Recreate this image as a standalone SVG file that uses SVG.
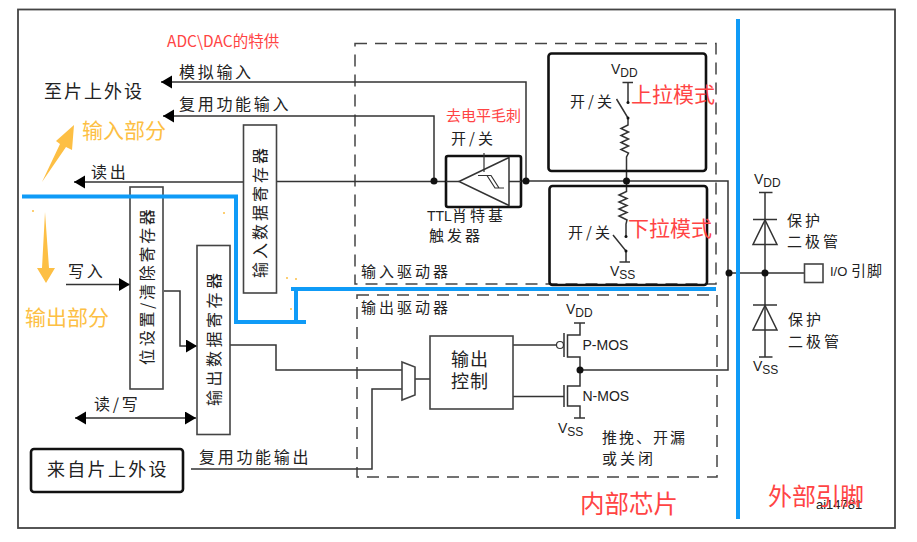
<svg xmlns="http://www.w3.org/2000/svg" width="917" height="542" viewBox="0 0 917 542">
<defs>
<marker id="a" markerUnits="userSpaceOnUse" markerWidth="12" markerHeight="14" refX="11" refY="6.500" orient="auto-start-reverse"><path d="M0 0L11 6.500L0 13z" fill="#000"/></marker>
</defs>
<style>
text{font-family:"Noto Sans CJK SC","Liberation Sans",sans-serif;fill:#222}
.t{font-size:16px;letter-spacing:2.700px}
.s{font-size:15px;letter-spacing:3px}
.l{font-family:"Liberation Sans",sans-serif;font-size:14px}
.sub{font-size:12px}
.r{fill:#f44}
.y{fill:#fdbf44}
.box{fill:#fff;stroke:#444;stroke-width:1.600}
.tb{fill:#fff;stroke:#111;stroke-width:2.600}
.w{fill:none;stroke:#333;stroke-width:1.500}
.dash{fill:none;stroke:#444;stroke-width:1.500;stroke-dasharray:12 8}
.blue{fill:none;stroke:#0f9bf7;stroke-width:4}
.dot{fill:#111}
</style>
<rect width="917" height="542" fill="#fff"/>
<rect id="frame" x="18" y="9.500" width="877" height="518.500" fill="none" stroke="#444" stroke-width="1.800"/>
<g id="input-driver"><rect class="dash" x="355" y="43.500" width="361" height="240.500"/></g>
<g id="output-driver"><rect class="dash" x="357" y="295" width="360" height="182"/></g>
<g id="connectors">
<path class="w" d="M172 82H526V181"/>
<path class="w" d="M172 116H434V181"/>
<path class="w" d="M80 182H243M276 181.500H446"/>
<path class="w" d="M521 181H728V370H580M728 273H804"/>
<path class="w" d="M80 182H74" marker-end="url(#a)"/>
<path class="w" d="M172 82H161" marker-end="url(#a)"/>
<path class="w" d="M172 116H163" marker-end="url(#a)"/>
<path class="w" d="M66 284.500H130" marker-end="url(#a)"/>
<path class="w" d="M164 291H180V346H197" marker-end="url(#a)"/>
<path class="w" d="M75 418H196" marker-start="url(#a)" marker-end="url(#a)"/>
<path class="w" d="M229 345H276V370H402"/>
<path class="w" d="M191 469H372V389H402"/>
<path class="w" d="M415 379H430"/>
<path class="w" d="M513 345H556M513 396.500H564"/>
<path class="w" d="M574 323H585M580 323V335H567.500V357H580V386H567.500V406H580V418M574 418H585"/>
<path class="w" d="M564 333V357M564 385V407"/>
<path class="w" d="M765 192.500V357M759 192.500H772.500M753 219.500H777M753 305H777M759 357H772.500"/>
<path class="w" d="M765 220L753 244.500H777ZM765 305.500L753 330H777Z"/>
<path class="w" d="M622.500 82.500H633M628 82.500V102.500M616.500 99L628 118V125L621 128.500L628.500 132L621 135.500L628.500 139L621 142.500L628.500 146L621 149.500L628.500 153L626.500 157V181"/>
<path class="w" d="M626.500 181V191.500L619 195L627 198.500L619 202L627 205.500L619 209L627 212.500L619 216L627 220L626 224V236.500M613 235L626 251V262M619.500 262H630"/>
</g>
<g id="pullup"><rect x="548.500" y="53.500" width="157.500" height="117.500" rx="3" fill="none" stroke="#111" stroke-width="2.600"/></g>
<g id="pulldown"><rect x="549.500" y="186" width="157.500" height="99" rx="3" fill="none" stroke="#111" stroke-width="2.600"/></g>
<g id="schmitt">
<rect class="tb" x="446" y="156" width="75" height="51" rx="2"/>
<path class="w" d="M446 181.500H459M509 181.500H521"/>
<path class="w" d="M459 181.500L509 157.500V205.500Z"/>
<path d="M484 153V172M478 175.500H487L495 188H504M487 175.500H491L499 188" fill="none" stroke="#333" stroke-width="1.200"/>
</g>
<g id="in-reg"><rect class="box" x="243.500" y="125" width="33" height="168"/><text class="t" transform="translate(266,278) rotate(-90)" style="letter-spacing:3px">输入数据寄存器</text></g>
<g id="bsrr"><rect class="box" x="130" y="187" width="33" height="202"/><text class="t" transform="translate(153,365) rotate(-90)">位设置/清除寄存器</text></g>
<g id="out-reg"><rect class="box" x="197" y="245.500" width="33" height="189"/><text class="t" transform="translate(220,406) rotate(-90)" style="letter-spacing:3.500px">输出数据寄存器</text></g>
<g id="peripheral"><rect class="tb" x="31" y="449" width="152" height="43" rx="3"/><text class="t" x="47" y="476" style="font-size:18px;letter-spacing:2.300px">来自片上外设</text></g>
<g id="ctrl"><rect class="box" x="430" y="336" width="83" height="73"/><text class="t" x="451" y="366" style="font-size:18px;letter-spacing:1px">输出</text><text class="t" x="451" y="388" style="font-size:18px;letter-spacing:1px">控制</text></g>
<g id="mux"><path class="box" d="M402 362L415 367V395L402 400Z"/></g>
<g id="pad"><rect class="box" x="804.500" y="264" width="18.500" height="18.500"/></g>
<g id="dots">
<circle class="dot" cx="434" cy="181" r="3.500"/><circle class="dot" cx="526" cy="181" r="3.500"/><circle class="dot" cx="626.500" cy="181" r="3.500"/><circle class="dot" cx="729" cy="273" r="3.500"/><circle class="dot" cx="765" cy="273" r="3.500"/><circle class="dot" cx="580" cy="370" r="3.500"/>
<circle class="dot" cx="628" cy="102.500" r="1.500"/><circle class="dot" cx="628" cy="118" r="1.500"/><circle class="dot" cx="626" cy="236.500" r="1.500"/><circle class="dot" cx="626" cy="251" r="1.500"/>
<circle cx="560" cy="345" r="3.500" fill="#fff" stroke="#333" stroke-width="1.200"/>
</g>
<g id="blue-lines">
<path class="blue" d="M22 196.500H236V322H306M296 289V322M291 289H716"/>
<path class="blue" d="M738 19V519"/>
</g>
<g id="labels">
<text class="r" x="167" y="47" style="font-size:15.500px">ADC\DAC的特供</text>
<text class="t" x="179" y="78">模拟输入</text>
<text class="t" x="179" y="110">复用功能输入</text>
<text class="t" x="44" y="98" style="font-size:18px;letter-spacing:2px">至片上外设</text>
<text class="t" x="91" y="178">读出</text>
<text class="t" x="68" y="277">写入</text>
<text class="t" x="94" y="410">读/写</text>
<text class="t" x="199" y="463">复用功能输出</text>
<text class="r" x="446" y="121" style="font-size:15px">去电平毛刺</text>
<text class="s" x="451" y="144">开/关</text>
<text class="s" x="427" y="221"><tspan class="l" style="letter-spacing:0">TTL</tspan>肖特基</text>
<text class="s" x="429" y="241">触发器</text>
<text class="s" x="570" y="107">开/关</text>
<text class="s" x="568" y="238">开/关</text>
<text class="s" x="361" y="277">输入驱动器</text>
<text class="s" x="361" y="313">输出驱动器</text>
<text class="s" x="602" y="443" style="letter-spacing:2px">推挽、开漏</text>
<text class="s" x="602" y="464">或关闭</text>
<text class="l" x="582.500" y="350">P-MOS</text>
<text class="l" x="582.500" y="401">N-MOS</text>
<text class="l" x="611" y="74">V<tspan class="sub" dy="3">DD</tspan></text>
<text class="l" x="610" y="276">V<tspan class="sub" dy="3">SS</tspan></text>
<text class="l" x="566" y="314">V<tspan class="sub" dy="3">DD</tspan></text>
<text class="l" x="558" y="433">V<tspan class="sub" dy="3">SS</tspan></text>
<text class="l" x="754" y="184">V<tspan class="sub" dy="3">DD</tspan></text>
<text class="l" x="753" y="371">V<tspan class="sub" dy="3">SS</tspan></text>
<text class="s" x="787" y="226">保护</text>
<text class="s" x="787" y="247">二极管</text>
<text class="s" x="788" y="325">保护</text>
<text class="s" x="788" y="347">二极管</text>
<text x="830" y="276" style="font-size:15px;letter-spacing:1px"><tspan class="l" style="font-size:13px;letter-spacing:0">I/O </tspan>引脚</text>
<text x="816" y="509" style="font-size:13px;font-family:'Liberation Sans',sans-serif">ai14781</text>
<text class="r" x="631" y="102" style="font-size:21px">上拉模式</text>
<text class="r" x="628" y="236" style="font-size:21px">下拉模式</text>
<text class="r" x="580" y="513" style="font-size:24.500px">内部芯片</text>
<text class="r" x="768" y="505" style="font-size:24px">外部引脚</text>
<text class="y" x="82" y="138" style="font-size:21px">输入部分</text>
<text class="y" x="25" y="325" style="font-size:21px">输出部分</text>
</g>
<g id="orange" fill="#fdbf44">
<path d="M42 182L60 144L56 141L74 125L72 150L66 147Z"/>
<path d="M45 212L42 268H37L46 283L55 268H49Z"/>
<circle cx="33" cy="211" r="1"/><circle cx="224" cy="213" r="1"/><circle cx="287" cy="278" r="1"/><circle cx="296" cy="279" r="1"/><circle cx="291" cy="309" r="1"/>
</g>
</svg>
